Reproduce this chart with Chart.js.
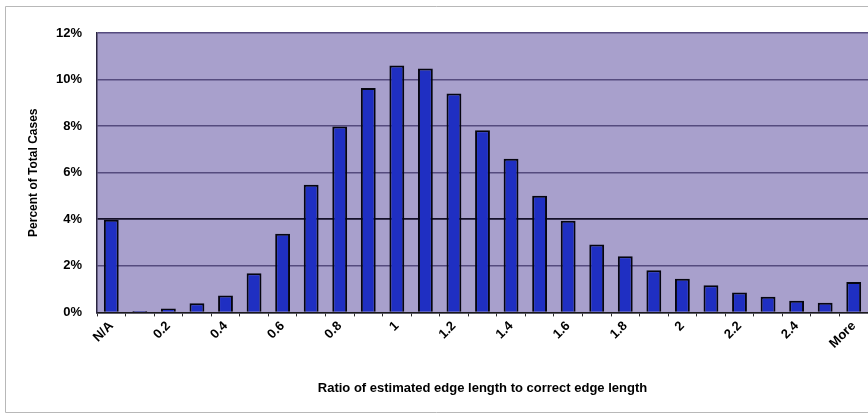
<!DOCTYPE html>
<html>
<head>
<meta charset="utf-8">
<script src="https://cdn.jsdelivr.net/npm/chart.js@4/dist/chart.umd.min.js"></script>
<style>
  html, body { margin: 0; padding: 0; background: #ffffff; }
  #wrap { width: 868px; height: 416px; position: relative; }
</style>
</head>
<body>
<div id="wrap"><canvas id="c" width="868" height="416"></canvas></div>
<script>
const categories = ["N/A","0.1","0.2","0.3","0.4","0.5","0.6","0.7","0.8","0.9","1","1.1","1.2","1.3","1.4","1.5","1.6","1.7","1.8","1.9","2","2.1","2.2","2.3","2.4","2.5","More"];
const percentOfCases = [3.98,0.06,0.17,0.39,0.73,1.68,3.38,5.48,7.98,9.64,10.6,10.47,9.4,7.82,6.6,5.01,3.94,2.92,2.41,1.81,1.45,1.17,0.85,0.67,0.5,0.41,1.31];
const yTicks = [0,2,4,6,8,10,12];
const xTitle = "Ratio of estimated edge length to correct edge length";
const yTitle = "Percent of Total Cases";

const FONT = "'Liberation Sans', Arial, Helvetica, sans-serif";

const bgPlugin = {
  id: 'bg',
  beforeDraw(chart) {
    const {ctx, chartArea: a, width, height} = chart;
    ctx.save();
    ctx.fillStyle = '#ffffff';
    ctx.fillRect(0, 0, width, height);
    ctx.strokeStyle = '#b8b8b8';
    ctx.lineWidth = 1;
    ctx.beginPath();
    ctx.moveTo(width, 6.5); ctx.lineTo(5.5, 6.5); ctx.lineTo(5.5, 412.5); ctx.lineTo(width, 412.5);
    ctx.stroke();
    ctx.fillStyle = '#a8a0cc';
    ctx.fillRect(a.left, a.top, a.right - a.left, a.bottom - a.top);
    ctx.restore();
  }
};

new Chart(document.getElementById('c'), {
  type: 'bar',
  data: {
    labels: categories,
    datasets: [{
      data: percentOfCases,
      backgroundColor: '#1f2fc2',
      borderColor: '#05050f',
      borderWidth: 2,
      barPercentage: 0.52,
      categoryPercentage: 1.0
    }]
  },
  options: {
    responsive: false,
    animation: false,
    devicePixelRatio: 1,
    layout: { padding: { top: 33, right: 0, bottom: 20, left: 0 } },
    plugins: { legend: { display: false }, tooltip: { enabled: false } },
    scales: {
      x: {
        grid: { offset: true, drawOnChartArea: false, drawTicks: true, tickLength: 4, color: '#2a2a2a' },
        border: { display: true, color: '#1a1a1a', width: 1.5 },
        ticks: {
          autoSkip: false, minRotation: 45, maxRotation: 45, padding: 2,
          color: '#000000',
          font: { family: FONT, size: 13, weight: 'bold' },
          callback: (v, i) => (i % 2 === 0 ? categories[i] : '')
        },
        title: {
          display: true, text: xTitle, color: '#000000',
          font: { family: FONT, size: 13, weight: 'bold' },
          padding: { top: 27, bottom: 0 }
        }
      },
      y: {
        min: 0, max: 12,
        afterFit(scale) { scale.width = 97; },
        afterBuildTicks(scale) { scale.ticks = yTicks.map(v => ({ value: v })); },
        grid: {
          drawTicks: false, tickLength: 0,
          color: (ctx) => (ctx.tick && ctx.tick.value === 4 ? '#141028' : '#554b7e'),
          lineWidth: (ctx) => (ctx.tick && ctx.tick.value === 4 ? 1.8 : 1.4)
        },
        border: { display: true, color: '#2a2540', width: 1.5 },
        ticks: {
          padding: 15, color: '#000000',
          font: { family: FONT, size: 13, weight: 'bold' },
          callback: (v) => v + '%'
        },
        title: {
          display: true, text: yTitle, color: '#000000',
          font: { family: FONT, size: 12, weight: 'bold' },
          padding: { top: 26, bottom: 0 }
        }
      }
    }
  },
  plugins: [bgPlugin]
});
</script>
</body>
</html>
